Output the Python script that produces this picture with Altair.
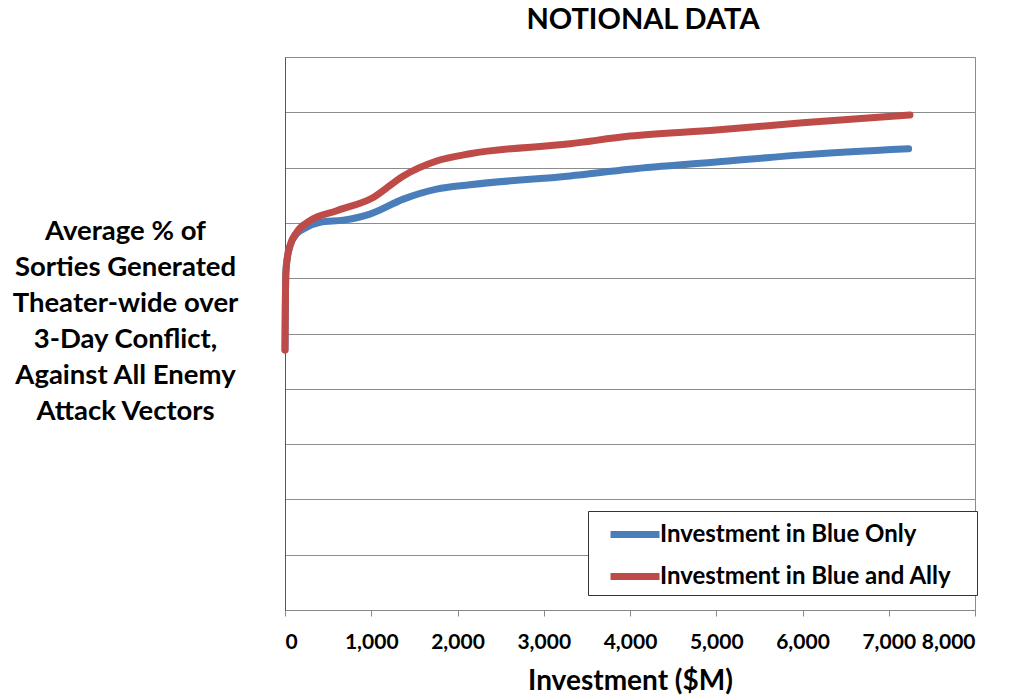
import altair as alt
import pandas as pd

blue_x = [0, 4, 10, 30, 60, 135, 212, 406, 676, 985, 1372, 1758, 2145, 3304, 4000, 5000, 6000, 7230]
blue_y = [47, 55, 61, 64, 65.9, 68.0, 68.9, 70.1, 70.5, 71.6, 74.3, 76.1, 76.9, 78.5, 79.7, 81.0, 82.3, 83.4]
red_x = [0, 4, 10, 30, 58, 135, 290, 600, 1024, 1372, 1758, 2145, 3304, 4000, 5000, 6000, 7246]
red_y = [47, 55, 61, 64, 65.9, 68.3, 70.4, 72.2, 74.6, 78.5, 81.2, 82.5, 84.3, 85.7, 86.8, 88.1, 89.5]
series = ["Investment in Blue Only", "Investment in Blue and Ally"]
colors = ["#4A7EBB", "#BE4B48"]
y_title = ["Average % of", "Sorties Generated", "Theater-wide over",
           "3-Day Conflict,", "Against All Enemy", "Attack Vectors"]

rows = []
for i, (x, y) in enumerate(zip(blue_x, blue_y)):
    rows.append({"x": x, "y": y, "s": series[0], "o": i})
for i, (x, y) in enumerate(zip(red_x, red_y)):
    rows.append({"x": x, "y": y, "s": series[1], "o": i})
df = pd.DataFrame(rows)

FONT = "Lato"

chart = alt.Chart(df).mark_line(
    interpolate="monotone", strokeWidth=7, strokeCap="round", strokeJoin="round"
).encode(
    x=alt.X("x:Q", scale=alt.Scale(domain=[0, 8000], nice=False),
            axis=alt.Axis(title="Investment ($M)", values=list(range(0, 8001, 1000)),
                          format=",d", grid=False, labelFontSize=21, labelFontWeight="bold",
                          labelColor="#000", labelPadding=15, tickSize=6, tickColor="#888",
                          domainColor="#888", titleFontSize=28, titleFontWeight="bold",
                          titleColor="#000", titlePadding=15, labelFont=FONT, titleFont=FONT)),
    y=alt.Y("y:Q", scale=alt.Scale(domain=[0, 100], nice=False),
            axis=alt.Axis(title=y_title, labels=False, ticks=False, values=list(range(0, 101, 10)),
                          grid=True, gridColor="#8c8c8c", domainColor="#555",
                          titleAngle=0, titleAlign="center", titleBaseline="middle",
                          titleX=-160, titleY=174, titleLineHeight=36,
                          titleFontSize=27.5, titleFontWeight="bold", titleColor="#000",
                          titleFont=FONT)),
    color=alt.Color("s:N", scale=alt.Scale(domain=series, range=colors),
                    legend=alt.Legend(title=None, orient="none", legendX=303, legendY=454,
                                      symbolType="M-1,0H2.0625", symbolSize=1024,
                                      symbolStrokeWidth=7, symbolOffset=15,
                                      labelFontSize=24, labelFontWeight="bold", labelColor="#000",
                                      labelFont=FONT, labelOffset=14, rowPadding=8,
                                      labelExpr="datum.label + '\u2009\u2800'",
                                      padding=4, strokeColor="#333", fillColor="white",
                                      labelLimit=500)),
    detail="s:N",
    order="o:Q",
).properties(
    width=690, height=553,
    title=alt.TitleParams("NOTIONAL DATA", fontSize=29, fontWeight="bold", font=FONT,
                          color="#000", anchor="middle", dx=13, offset=22),
    autosize=alt.AutoSizeParams(type="none"),
    padding={"left": 277, "top": 49, "right": 20, "bottom": 90},
).configure_view(stroke="#8c8c8c", strokeWidth=1)

chart.save("out.html", embed_options={"renderer": "svg", "actions": False})
